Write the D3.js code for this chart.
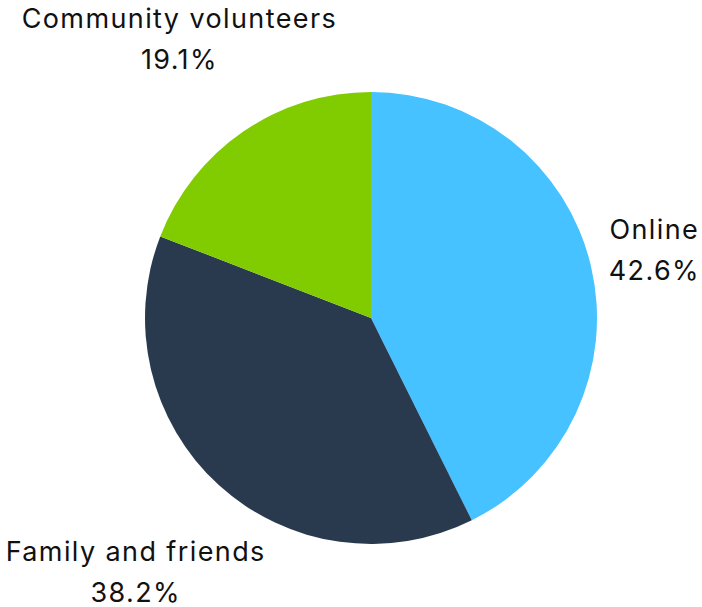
<!DOCTYPE html>
<html>
<head>
<meta charset="utf-8">
<script src="https://cdn.jsdelivr.net/npm/d3@7"></script>
<style>
  html, body { margin: 0; padding: 0; background: #ffffff; }
  svg { display: block; }
  text { font-family: Inter, "Noto Sans", sans-serif; fill: #111111; letter-spacing: 1.4px; }
</style>
</head>
<body>
<svg id="chart" width="702" height="607"></svg>
<script>
// Share of responses by channel
const categories = ["Online", "Family and friends", "Community volunteers"];
const shares = [42.6, 38.2, 19.1];
const colors = ["#45c2ff", "#2a3a4e", "#80cc00"];

const width = 702, height = 607;
const cx = 371, cy = 318, radius = 226;
const labelGap = 19;      // distance from the rim to the nearest label edge
const fontSize = 27;
const lineStep = 41;

const svg = d3.select("#chart");
const g = svg.append("g").attr("transform", `translate(${cx},${cy})`);

const data = categories.map((c, i) => ({ name: c, value: shares[i], color: colors[i] }));

const pie = d3.pie().value(d => d.value).sort(null);
const arc = d3.arc().innerRadius(0).outerRadius(radius);
const arcs = pie(data);

g.selectAll("path.slice")
  .data(arcs)
  .join("path")
  .attr("class", "slice")
  .attr("d", arc)
  .attr("fill", d => d.data.color);

// Two-line labels, centred on each slice's mid-angle ray and pushed out
// until the label box clears the rim by labelGap.
const labels = g.selectAll("g.label")
  .data(arcs)
  .join("g")
  .attr("class", "label");

labels.each(function(d) {
  const lg = d3.select(this);
  const t = lg.append("text")
    .attr("text-anchor", "middle")
    .style("font-size", fontSize + "px");
  t.append("tspan").attr("x", 0).attr("y", 0).text(d.data.name);
  t.append("tspan").attr("x", 0).attr("y", lineStep).text(d3.format(".1f")(d.data.value) + "%");

  const bb = t.node().getBBox();
  // centre the text block on its own origin
  const ox = -(bb.x + bb.width / 2), oy = -(bb.y + bb.height / 2);
  t.attr("transform", `translate(${ox},${oy})`);

  const hw = bb.width / 2, hh = bb.height / 2;
  const mid = (d.startAngle + d.endAngle) / 2;
  const ux = Math.sin(mid), uy = -Math.cos(mid);
  const target = radius + labelGap;
  const nearest = dist => {
    const px = dist * ux, py = dist * uy;
    const nx = Math.max(Math.abs(px) - hw, 0), ny = Math.max(Math.abs(py) - hh, 0);
    return Math.hypot(nx, ny);
  };
  let lo = 0, hi = radius * 3;
  for (let k = 0; k < 60; k++) {
    const m = (lo + hi) / 2;
    if (nearest(m) < target) lo = m; else hi = m;
  }
  let x = hi * ux, y = hi * uy;
  // keep the label inside the page
  const minX = -cx + hw + 2, maxX = width - cx - hw - 2;
  const minY = -cy + hh + 2, maxY = height - cy - hh + 2;
  x = Math.min(Math.max(x, minX), maxX);
  y = Math.min(Math.max(y, minY), maxY);
  lg.attr("transform", `translate(${x},${y})`);
});
</script>
</body>
</html>
